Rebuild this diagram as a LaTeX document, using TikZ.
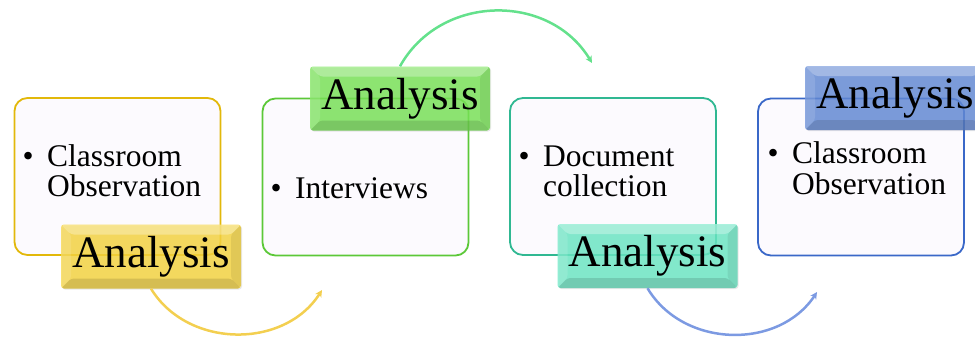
\documentclass[tikz,border=0pt]{standalone}
\usepackage{fontspec}
\setmainfont{Liberation Serif}
\usetikzlibrary{arrows.meta,calc,shadows}

\definecolor{boxfill}{RGB}{252,250,254}
\definecolor{yelline}{RGB}{226,184,10}
\definecolor{yeltab}{RGB}{247,212,60}
\definecolor{yelarrow}{RGB}{243,207,80}
\definecolor{grnline}{RGB}{92,200,56}
\definecolor{grntab}{RGB}{118,228,84}
\definecolor{grnarrow}{RGB}{100,225,140}
\definecolor{tealline}{RGB}{48,184,146}
\definecolor{tealtab}{RGB}{104,232,196}
\definecolor{blueline}{RGB}{58,104,200}
\definecolor{bluetab}{RGB}{96,136,214}
\definecolor{bluearrow}{RGB}{124,154,226}

\tikzset{
  stagebox/.style={draw=#1, line width=1.8pt, rounded corners=13pt, fill=boxfill,
    minimum width=206pt, minimum height=157pt, inner sep=0pt},
  bevel/.style={fill=#1, fill opacity=0.8, text opacity=1, rounded corners=3pt,
    minimum width=180pt, minimum height=64pt, inner sep=0pt,
    font=\fontsize{45}{45}\selectfont,
    drop shadow={opacity=0.18, shadow xshift=1pt, shadow yshift=-1pt},
    path picture={
      \coordinate (pNW) at (path picture bounding box.north west);
      \coordinate (pNE) at (path picture bounding box.north east);
      \coordinate (pSW) at (path picture bounding box.south west);
      \coordinate (pSE) at (path picture bounding box.south east);
      \coordinate (iNW) at ($(pNW)+(10,10)$);
      \coordinate (iNE) at ($(pNE)+(-10,10)$);
      \coordinate (iSW) at ($(pSW)+(10,-10)$);
      \coordinate (iSE) at ($(pSE)+(-10,-10)$);
      \fill[white, fill opacity=0.30] (pNW) -- (pNE) -- (iNE) -- (iNW) -- cycle;
      \fill[white, fill opacity=0.12] (pNW) -- (iNW) -- (iSW) -- (pSW) -- cycle;
      \fill[black, fill opacity=0.12] (pSW) -- (iSW) -- (iSE) -- (pSE) -- cycle;
      \fill[black, fill opacity=0.07] (pNE) -- (pSE) -- (iSE) -- (iNE) -- cycle;
    }},
  itemtext/.style={anchor=base west, inner sep=0pt, font=\fontsize{31.5}{30}\selectfont},
  flow/.style={draw=#1, line width=2.5pt, -{Stealth[length=7pt,width=7pt]}},
}
\newcommand{\tablabel}{\raisebox{-2pt}{Analysis}}

\begin{document}
\begin{tikzpicture}[x=1pt,y=-1pt]
  \useasboundingbox (0,0) rectangle (975,338);

  % stage 1
  \node[stagebox=yelline] (box1) at (117.5,176.5) {};
  \node[itemtext] (b1) at (22.5,166) {•};
  \node[itemtext] (t1a) at (47,166) {Classroom};
  \node[itemtext] (t1b) at (47,196) {Observation};
  \node[bevel=yeltab] (tab1) at (151,256.5) {\tablabel};

  % stage 2
  \node[stagebox=grnline] (box2) at (365.5,177) {};
  \node[itemtext] (b2) at (270.5,198) {•};
  \node[itemtext] (t2a) at (295,198) {Interviews};
  \node[bevel=grntab] (tab2) at (400,98.5) {\tablabel};

  % stage 3
  \node[stagebox=tealline] (box3) at (613,176.5) {};
  \node[itemtext] (b3) at (518.5,166) {•};
  \node[itemtext] (t3a) at (543,166) {Document};
  \node[itemtext] (t3b) at (543,196) {collection};
  \node[bevel=tealtab] (tab3) at (647.5,256) {\tablabel};

  % stage 4
  \node[stagebox=blueline] (box4) at (861,177) {};
  \node[itemtext] (b4) at (767.5,163) {•};
  \node[itemtext] (t4a) at (792,163) {Classroom};
  \node[itemtext] (t4b) at (792,194) {Observation};
  \node[bevel=bluetab] (tab4) at (895,98) {\tablabel};

  % curved transitions between stages
  \coordinate (e1) at (322,290);
  \coordinate (e2) at (592,63);
  \coordinate (e3) at (817,292);
  \draw[flow=yelarrow] (tab1.south) to[bend right=58, looseness=1.05] (e1);
  \draw[flow=grnarrow] (tab2.north) to[bend left=60, looseness=1.1] (e2);
  \draw[flow=bluearrow] (tab3.south) to[bend right=58, looseness=1.05] (e3);
\end{tikzpicture}
\end{document}
